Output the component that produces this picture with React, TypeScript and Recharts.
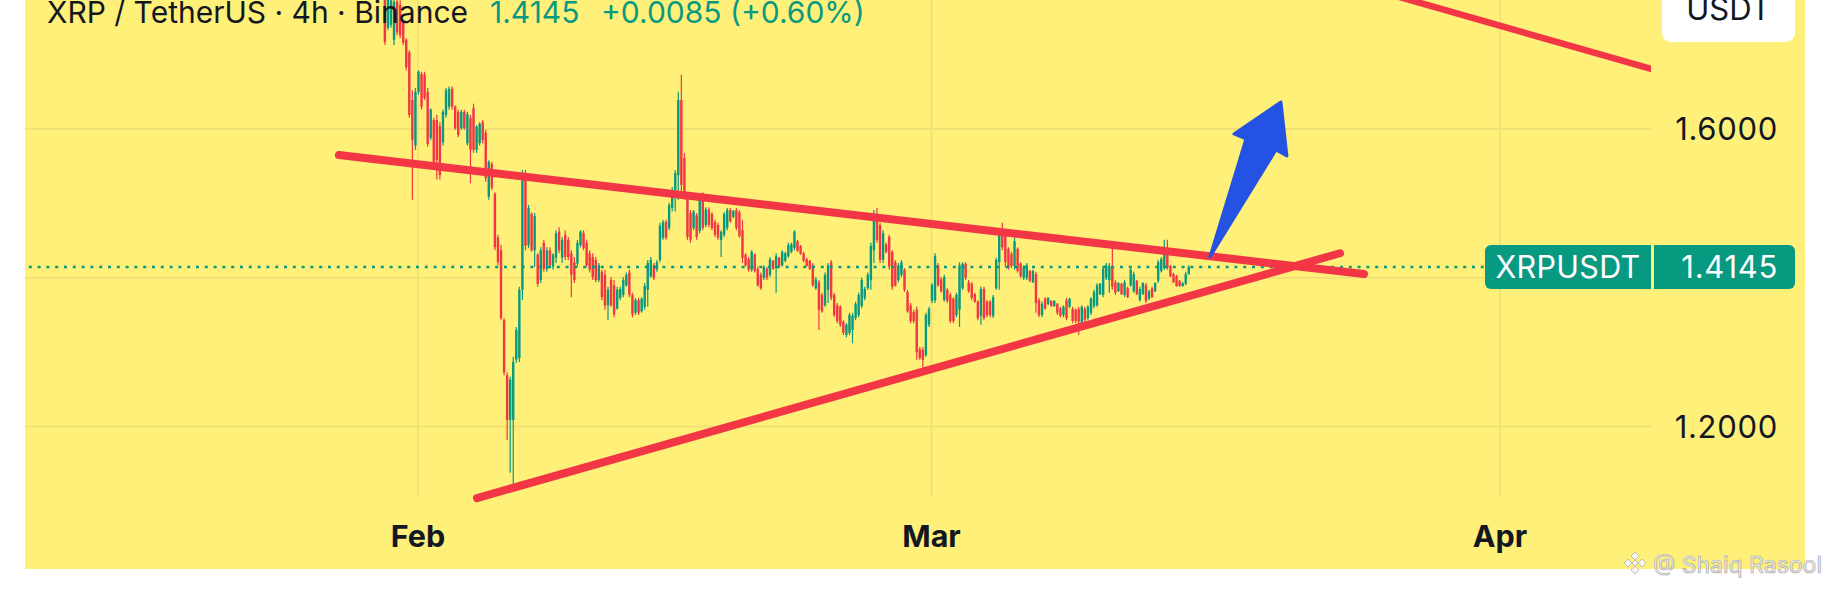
import React from 'react';
import { ComposedChart, Bar, XAxis, YAxis, CartesianGrid, ReferenceLine, ReferenceDot } from 'recharts';

// 4h candles, time in days counted from Jan 1 (Feb 1 = 31, Mar 1 = 59, Apr 1 = 90)
const firstBarDay = 29;
const barsPerDay = 6;

const opens = [
  1.800, 1.780, 1.736, 1.740, 1.720, 1.771, 1.767, 1.744, 1.720, 1.703, 1.639, 1.578, 1.650, 1.674, 1.673, 1.650,
  1.588, 1.612, 1.612, 1.604, 1.582, 1.619, 1.630, 1.654, 1.630, 1.623, 1.601, 1.623, 1.581, 1.615, 1.628, 1.572,
  1.581, 1.609, 1.595, 1.509, 1.553, 1.513, 1.454, 1.437, 1.343, 1.269, 1.209, 1.209, 1.290, 1.292, 1.384,
  1.537, 1.444, 1.486, 1.437, 1.431, 1.397, 1.447, 1.412, 1.437, 1.415, 1.427, 1.462, 1.427, 1.458, 1.451, 1.433,
  1.421, 1.419, 1.444, 1.460, 1.447, 1.433, 1.428, 1.424, 1.397, 1.408, 1.404, 1.363, 1.397, 1.390, 1.359, 1.373,
  1.377, 1.390, 1.407, 1.377, 1.353, 1.370, 1.355, 1.361, 1.384, 1.402, 1.417, 1.411, 1.424, 1.454, 1.475, 1.467,
  1.494, 1.518, 1.538,
  1.639, 1.561, 1.510, 1.487, 1.467, 1.484,
  1.463, 1.513, 1.471, 1.492, 1.486, 1.475, 1.471, 1.451, 1.458, 1.467, 1.491, 1.482, 1.491, 1.488, 1.464, 1.431,
  1.425, 1.411, 1.431, 1.412, 1.404, 1.400, 1.412, 1.404, 1.423, 1.413, 1.427, 1.417, 1.423, 1.429, 1.435, 1.440,
  1.449, 1.443, 1.433, 1.425, 1.423, 1.417, 1.386, 1.394, 1.377, 1.363, 1.384, 1.421, 1.377, 1.363, 1.361, 1.341,
  1.323, 1.326, 1.330, 1.346, 1.350, 1.362, 1.373, 1.386, 1.397, 1.437, 1.484,
  1.471, 1.424, 1.445, 1.455, 1.435, 1.421, 1.397, 1.404, 1.411, 1.381, 1.363, 1.354, 1.357, 1.304, 1.303,
  1.296, 1.337, 1.369, 1.370, 1.417, 1.398, 1.370, 1.384, 1.377, 1.372, 1.350, 1.357, 1.386, 1.419, 1.394, 1.392,
  1.378, 1.368, 1.349, 1.385, 1.368, 1.368, 1.349, 1.386, 1.421, 1.462,
  1.458, 1.439, 1.432, 1.416, 1.439, 1.419, 1.400, 1.400, 1.409, 1.394, 1.405, 1.370, 1.350, 1.372, 1.365, 1.369,
  1.362, 1.365, 1.359, 1.350, 1.370, 1.361, 1.358, 1.357, 1.358,
  1.339, 1.358, 1.346, 1.353, 1.362, 1.363, 1.378, 1.377, 1.400, 1.397, 1.416,
  1.394, 1.382, 1.392, 1.377, 1.386, 1.390, 1.382, 1.396, 1.370, 1.378, 1.390, 1.372, 1.386, 1.382, 1.396, 1.409, 1.413,
  1.437, 1.416, 1.405, 1.402, 1.396, 1.389, 1.392, 1.405,
];

const highs = [
  1.814, 1.790, 1.784, 1.782, 1.780, 1.777, 1.773, 1.747, 1.722, 1.706, 1.652, 1.655, 1.679, 1.677, 1.677, 1.655,
  1.628, 1.615, 1.619, 1.609, 1.626, 1.655, 1.657, 1.657, 1.632, 1.626, 1.626, 1.626, 1.623, 1.619, 1.634, 1.605,
  1.609, 1.612, 1.599, 1.558, 1.556, 1.515, 1.458, 1.444, 1.346, 1.273, 1.267, 1.294, 1.334, 1.388, 1.545,
  1.545, 1.498, 1.488, 1.487, 1.433, 1.441, 1.451, 1.441, 1.441, 1.433, 1.464, 1.468, 1.455, 1.464, 1.455, 1.437,
  1.428, 1.451, 1.464, 1.464, 1.451, 1.437, 1.433, 1.428, 1.420, 1.411, 1.411, 1.388, 1.401, 1.397, 1.388, 1.388,
  1.401, 1.407, 1.411, 1.380, 1.373, 1.373, 1.374, 1.393, 1.424, 1.428, 1.420, 1.424, 1.474, 1.478, 1.478, 1.501,
  1.522, 1.545, 1.650,
  1.673, 1.568, 1.514, 1.491, 1.491, 1.487,
  1.514, 1.515, 1.495, 1.495, 1.488, 1.478, 1.474, 1.464, 1.488, 1.494, 1.494, 1.491, 1.494, 1.491, 1.478, 1.433,
  1.428, 1.437, 1.433, 1.415, 1.407, 1.417, 1.415, 1.428, 1.424, 1.433, 1.428, 1.437, 1.435, 1.447, 1.447, 1.464,
  1.451, 1.444, 1.435, 1.427, 1.424, 1.420, 1.401, 1.397, 1.380, 1.407, 1.420, 1.424, 1.380, 1.366, 1.363, 1.343,
  1.339, 1.353, 1.353, 1.368, 1.380, 1.400, 1.388, 1.407, 1.447, 1.491, 1.494,
  1.474, 1.464, 1.447, 1.458, 1.437, 1.424, 1.420, 1.424, 1.413, 1.384, 1.366, 1.357, 1.361, 1.307, 1.307,
  1.353, 1.361, 1.393, 1.433, 1.420, 1.401, 1.404, 1.386, 1.380, 1.374, 1.380, 1.421, 1.421, 1.421, 1.397, 1.394,
  1.380, 1.370, 1.388, 1.388, 1.370, 1.370, 1.377, 1.427, 1.464, 1.474,
  1.464, 1.441, 1.435, 1.454, 1.441, 1.421, 1.417, 1.420, 1.411, 1.411, 1.408, 1.373, 1.368, 1.374, 1.374, 1.370,
  1.370, 1.366, 1.361, 1.363, 1.373, 1.373, 1.361, 1.359, 1.361,
  1.363, 1.361, 1.363, 1.374, 1.384, 1.393, 1.393, 1.415, 1.420, 1.420, 1.441,
  1.397, 1.394, 1.393, 1.397, 1.388, 1.413, 1.408, 1.397, 1.388, 1.394, 1.393, 1.384, 1.388, 1.394, 1.424, 1.428, 1.451,
  1.451, 1.417, 1.407, 1.404, 1.397, 1.394, 1.408, 1.417,
];

const lows = [
  1.784, 1.713, 1.733, 1.736, 1.713, 1.726, 1.722, 1.713, 1.679, 1.615, 1.505, 1.572, 1.646, 1.626, 1.639, 1.576,
  1.585, 1.552, 1.532, 1.532, 1.578, 1.615, 1.626, 1.626, 1.599, 1.589, 1.599, 1.599, 1.578, 1.527, 1.568, 1.568,
  1.578, 1.581, 1.529, 1.505, 1.518, 1.437, 1.417, 1.343, 1.269, 1.182, 1.138, 1.117, 1.286, 1.287, 1.370,
  1.437, 1.440, 1.435, 1.415, 1.388, 1.393, 1.408, 1.408, 1.415, 1.411, 1.420, 1.433, 1.420, 1.424, 1.424, 1.374,
  1.393, 1.415, 1.441, 1.437, 1.415, 1.407, 1.397, 1.394, 1.394, 1.370, 1.357, 1.343, 1.361, 1.347, 1.357, 1.370,
  1.374, 1.388, 1.374, 1.347, 1.350, 1.350, 1.353, 1.357, 1.361, 1.400, 1.397, 1.408, 1.421, 1.451, 1.451, 1.464,
  1.489, 1.489, 1.505,
  1.509, 1.505, 1.451, 1.447, 1.464, 1.451,
  1.460, 1.464, 1.468, 1.468, 1.464, 1.455, 1.451, 1.428, 1.455, 1.464, 1.474, 1.480, 1.464, 1.454, 1.420, 1.415,
  1.408, 1.408, 1.407, 1.388, 1.384, 1.397, 1.397, 1.401, 1.411, 1.380, 1.415, 1.415, 1.421, 1.427, 1.433, 1.437,
  1.435, 1.431, 1.421, 1.415, 1.411, 1.388, 1.384, 1.330, 1.353, 1.361, 1.366, 1.370, 1.347, 1.339, 1.334, 1.323,
  1.320, 1.323, 1.312, 1.343, 1.347, 1.359, 1.370, 1.384, 1.384, 1.420, 1.447,
  1.420, 1.420, 1.433, 1.411, 1.384, 1.388, 1.394, 1.401, 1.381, 1.353, 1.339, 1.339, 1.290, 1.290, 1.279,
  1.294, 1.334, 1.366, 1.366, 1.388, 1.380, 1.368, 1.366, 1.339, 1.339, 1.347, 1.334, 1.384, 1.397, 1.380, 1.370,
  1.366, 1.343, 1.337, 1.343, 1.347, 1.347, 1.346, 1.384, 1.384, 1.437,
  1.415, 1.411, 1.413, 1.411, 1.407, 1.400, 1.397, 1.397, 1.394, 1.393, 1.353, 1.347, 1.347, 1.357, 1.363, 1.361,
  1.361, 1.350, 1.347, 1.347, 1.343, 1.359, 1.339, 1.339, 1.323,
  1.337, 1.341, 1.343, 1.350, 1.359, 1.361, 1.377, 1.374, 1.397, 1.380, 1.384,
  1.377, 1.381, 1.377, 1.374, 1.373, 1.388, 1.380, 1.377, 1.368, 1.377, 1.366, 1.370, 1.373, 1.381, 1.393, 1.407, 1.411,
  1.411, 1.401, 1.393, 1.388, 1.388, 1.388, 1.390, 1.404,
];

const closes = [
  1.789, 1.717, 1.776, 1.773, 1.771, 1.730, 1.726, 1.716, 1.683, 1.619, 1.585, 1.650, 1.677, 1.630, 1.642, 1.580,
  1.626, 1.556, 1.558, 1.538, 1.623, 1.652, 1.654, 1.630, 1.601, 1.592, 1.623, 1.601, 1.620, 1.572, 1.572, 1.603,
  1.607, 1.585, 1.534, 1.556, 1.521, 1.441, 1.421, 1.346, 1.273, 1.209, 1.263, 1.287, 1.330, 1.384, 1.534,
  1.443, 1.494, 1.437, 1.483, 1.392, 1.437, 1.412, 1.437, 1.417, 1.431, 1.460, 1.437, 1.451, 1.428, 1.428, 1.404,
  1.397, 1.447, 1.462, 1.440, 1.417, 1.411, 1.401, 1.397, 1.417, 1.374, 1.363, 1.384, 1.363, 1.351, 1.384, 1.385,
  1.397, 1.404, 1.377, 1.351, 1.370, 1.353, 1.372, 1.389, 1.420, 1.424, 1.400, 1.421, 1.470, 1.475, 1.454, 1.498,
  1.518, 1.541, 1.639,
  1.525, 1.507, 1.455, 1.451, 1.489, 1.455,
  1.511, 1.467, 1.492, 1.471, 1.467, 1.458, 1.454, 1.462, 1.486, 1.491, 1.476, 1.490, 1.467, 1.456, 1.427, 1.417,
  1.411, 1.435, 1.409, 1.390, 1.386, 1.415, 1.400, 1.425, 1.412, 1.429, 1.416, 1.435, 1.433, 1.444, 1.445, 1.462,
  1.436, 1.432, 1.423, 1.416, 1.412, 1.390, 1.398, 1.357, 1.355, 1.404, 1.417, 1.373, 1.350, 1.342, 1.337, 1.326,
  1.337, 1.350, 1.349, 1.365, 1.377, 1.397, 1.385, 1.404, 1.443, 1.484, 1.451,
  1.424, 1.460, 1.435, 1.415, 1.388, 1.390, 1.417, 1.421, 1.384, 1.355, 1.342, 1.342, 1.300, 1.292, 1.290,
  1.350, 1.358, 1.390, 1.429, 1.390, 1.382, 1.401, 1.369, 1.342, 1.342, 1.377, 1.417, 1.419, 1.400, 1.382, 1.373,
  1.368, 1.346, 1.385, 1.346, 1.350, 1.350, 1.374, 1.424, 1.460, 1.441,
  1.421, 1.413, 1.416, 1.449, 1.409, 1.402, 1.415, 1.417, 1.396, 1.409, 1.366, 1.350, 1.365, 1.359, 1.373, 1.362,
  1.369, 1.353, 1.349, 1.361, 1.346, 1.372, 1.342, 1.342, 1.341,
  1.361, 1.343, 1.361, 1.372, 1.381, 1.390, 1.392, 1.412, 1.417, 1.416, 1.388,
  1.380, 1.393, 1.378, 1.394, 1.374, 1.411, 1.405, 1.378, 1.385, 1.393, 1.369, 1.382, 1.374, 1.393, 1.421, 1.425, 1.437,
  1.413, 1.402, 1.394, 1.389, 1.389, 1.393, 1.405, 1.4145,
];

const monthTicks = [31, 59, 90];
const monthNames: Record<number, string> = { 31: 'Feb', 59: 'Mar', 90: 'Apr' };
const priceTicks = [1.2, 1.4, 1.6];
const lastPrice = 1.4145;
const priceChange = '+0.0085 (+0.60%)';

// drawn trend lines (x = day, y = price)
const resistance = [{ x: 26.69, y: 1.565 }, { x: 82.58, y: 1.405 }];
const support = [{ x: 34.22, y: 1.104 }, { x: 81.27, y: 1.433 }];
const upperChannel = [{ x: 81.27, y: 1.8003 }, { x: 100.9, y: 1.6619 }];
const arrowStart = { x: 74.18, y: 1.428 };

const UP = '#089981';
const DOWN = '#F23645';
const BG = '#FFF07A';
const GRID = '#F0E276';
const TEXT = '#131722';
const FONT = 'Inter, Roboto, sans-serif';

const candles = opens.map((o, i) => ({
  t: firstBarDay + i / barsPerDay,
  o,
  h: highs[i],
  l: lows[i],
  c: closes[i],
  range: [lows[i], highs[i]],
}));

const Candle = (props: any) => {
  const { x, y, width, height, payload } = props;
  if (!payload || height == null) return null;
  const cx = x + width / 2;
  const span = payload.h - payload.l || 1e-6;
  const k = height / span;
  const yo = y + (payload.h - payload.o) * k;
  const yc = y + (payload.h - payload.c) * k;
  const color = payload.c >= payload.o ? UP : DOWN;
  const top = Math.min(yo, yc);
  const bh = Math.max(Math.abs(yc - yo), 1);
  return (
    <g>
      <line x1={cx} x2={cx} y1={y} y2={y + height} stroke={color} strokeWidth={1.2} />
      <rect x={cx - 1.2} y={top} width={2.4} height={bh} fill={color} />
    </g>
  );
};

const monthTick = (props: any) => (
  <text x={props.x} y={props.y + 50} textAnchor="middle" fontFamily={FONT} fontSize={30.5} fontWeight={700} fill={TEXT}>
    {monthNames[props.payload.value]}
  </text>
);

const priceTick = (props: any) => {
  if (Math.abs(props.payload.value - 1.4) < 1e-6) return <g />;
  return (
    <text x={props.x + 127} y={props.y} dy="0.36em" textAnchor="end" fontFamily={FONT} fontSize={31} letterSpacing={0.7} fill={TEXT}>
      {props.payload.value.toFixed(4)}
    </text>
  );
};

const PriceTag = (props: any) => {
  const vb = props.viewBox;
  if (!vb) return null;
  const right = vb.x + vb.width;
  const cy = vb.y;
  return (
    <g>
      <rect x={right - 166} y={cy - 22} width={166} height={44} rx={6} fill={UP} />
      <rect x={right - 10} y={cy - 22} width={10} height={44} fill={UP} />
      <rect x={right + 3} y={cy - 22} width={141} height={44} rx={6} fill={UP} />
      <rect x={right + 3} y={cy - 22} width={10} height={44} fill={UP} />
      <text x={right - 83} y={cy} dy="0.36em" textAnchor="middle" fontFamily={FONT} fontSize={30.5} letterSpacing={0.3} fill="#fff">
        XRPUSDT
      </text>
      <text x={right + 127} y={cy} dy="0.36em" textAnchor="end" fontFamily={FONT} fontSize={31} letterSpacing={0.7} fill="#fff">
        {lastPrice.toFixed(4)}
      </text>
    </g>
  );
};

const Arrow = (props: any) => {
  const { cx, cy } = props;
  const pts = [[0, 0], [36, -118], [24, -123], [71, -155], [77, -101], [66, -107]]
    .map(([dx, dy]) => `${cx + dx},${cy + dy}`)
    .join(' ');
  return <polygon points={pts} fill="#2453E3" stroke="#2453E3" strokeWidth={3} strokeLinejoin="round" />;
};

export default function App() {
  return (
    <div style={{ position: 'absolute', left: 0, top: 0, width: 1831, height: 590, background: '#fff', overflow: 'hidden' }}>
      <div style={{ position: 'absolute', left: 25, top: 0, width: 1780, height: 569, background: BG }} />
      <div style={{ position: 'absolute', left: 0, top: 0 }}>
        <ComposedChart width={1831} height={590} data={candles} margin={{ top: 0, right: 0, bottom: 0, left: 25 }}>
          <CartesianGrid stroke={GRID} strokeWidth={2} syncWithTicks />
          <XAxis
            dataKey="t"
            type="number"
            domain={[9.57, 98.23]}
            allowDataOverflow
            ticks={monthTicks}
            interval={0}
            height={93}
            axisLine={false}
            tickLine={false}
            tickSize={0}
            tickMargin={0}
            tick={monthTick}
          />
          <YAxis
            orientation="right"
            type="number"
            domain={[1.1054, 1.7734]}
            allowDataOverflow
            ticks={priceTicks}
            interval={0}
            width={180}
            axisLine={false}
            tickLine={false}
            tickSize={0}
            tickMargin={0}
            tick={priceTick}
          />
          <Bar dataKey="range" shape={<Candle />} barSize={2} isAnimationActive={false} />
          <ReferenceLine
            y={lastPrice}
            stroke={UP}
            strokeWidth={2.5}
            strokeDasharray="3 5.8"
            ifOverflow="visible"
            label={<PriceTag />}
          />
          <ReferenceLine segment={resistance} stroke={DOWN} strokeWidth={8} strokeLinecap="round" ifOverflow="visible" />
          <ReferenceLine segment={support} stroke={DOWN} strokeWidth={8} strokeLinecap="round" ifOverflow="visible" />
          <ReferenceLine segment={upperChannel} stroke={DOWN} strokeWidth={6.5} ifOverflow="hidden" />
          <ReferenceDot x={arrowStart.x} y={arrowStart.y} r={1} ifOverflow="visible" shape={<Arrow />} />
        </ComposedChart>
      </div>
      <svg width={1831} height={590} style={{ position: 'absolute', left: 0, top: 0, pointerEvents: 'none' }}>
        <g fontFamily={FONT} fontSize={30}>
          <text x={47} y={23} fill={TEXT}>XRP / TetherUS · 4h · Binance</text>
          <text x={490} y={23} fill={UP}>{lastPrice.toFixed(4)}</text>
          <text x={601} y={23} fill={UP}>{priceChange}</text>
          <rect x={1662} y={-14} width={133} height={56} rx={9} fill="#fff" />
          <text x={1728.5} y={20} textAnchor="middle" fill={TEXT} fontSize={31}>USDT</text>
        </g>
        <g stroke="#b4b4b4" strokeWidth={0.8} fill="#f4f4f4">
          <polygon points="1635,552 1639,556 1635,560 1631,556" />
          <polygon points="1635,566 1639,570 1635,574 1631,570" />
          <polygon points="1628,559 1632,563 1628,567 1624,563" />
          <polygon points="1642,559 1646,563 1642,567 1638,563" />
          <polygon points="1635,560 1638,563 1635,566 1632,563" />
        </g>
        <text x={1653} y={573} fontFamily={FONT} fontSize={23} fill="#f2f2f2" stroke="#a8a8a8" strokeWidth={0.7}>
          @ Shaiq Rasool
        </text>
      </svg>
    </div>
  );
}
